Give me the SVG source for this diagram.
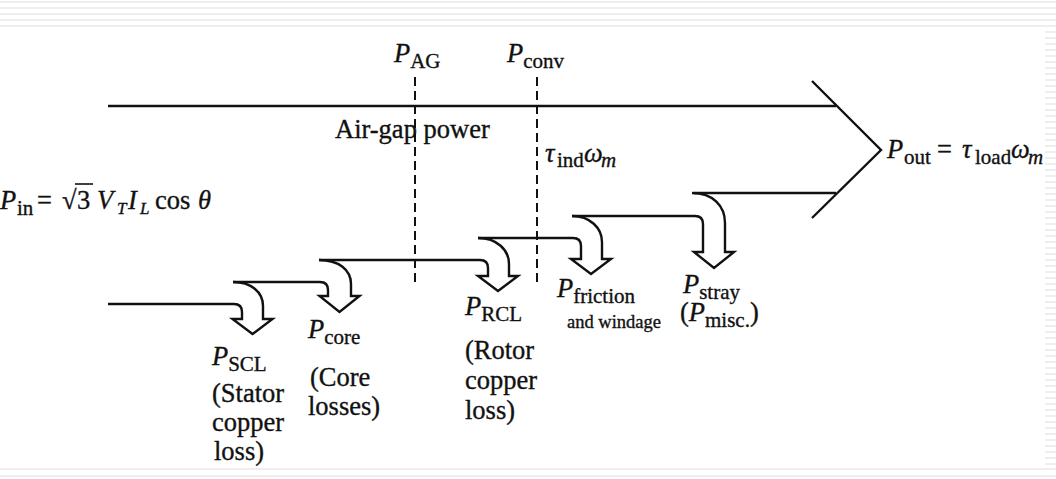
<svg xmlns="http://www.w3.org/2000/svg" width="1056" height="479" viewBox="0 0 1056 479">
<style>
.bg{fill:#ffffff}
.st{fill:#eeeeee}
.ln{fill:none;stroke:#111;stroke-width:2.4;stroke-linejoin:miter;stroke-linecap:butt}
.dash{fill:none;stroke:#111;stroke-width:2;stroke-dasharray:9 5}
.t{font-family:"Liberation Serif","Times New Roman",serif;font-size:26.5px;fill:#111;stroke:#111;stroke-width:0.35}
.i{font-style:italic}
.s{font-size:21px}
.ss{font-size:17px}
.sm{font-size:18.5px}
</style>
<rect class="bg" x="0" y="0" width="1056" height="479"/>
<g id="background">
<rect class="st" x="0" y="1" width="1056" height="2"/>
<rect class="st" x="0" y="7" width="1056" height="2"/>
<rect class="st" x="0" y="13" width="1056" height="2"/>
<rect class="st" x="0" y="19" width="1056" height="2"/>
<rect class="st" x="0" y="25" width="1056" height="2"/>
<rect class="st" x="0" y="468" width="1056" height="2"/>
<rect class="st" x="0" y="475" width="1056" height="2"/>
<path d="M1045 31h11v2h-11zM1045 37h11v2h-11zM1045 43h11v2h-11zM1045 49h11v2h-11zM1045 55h11v2h-11zM1045 61h11v2h-11zM1045 67h11v2h-11zM1045 73h11v2h-11zM1045 79h11v2h-11zM1045 85h11v2h-11zM1045 91h11v2h-11zM1045 97h11v2h-11zM1045 103h11v2h-11zM1045 109h11v2h-11zM1045 115h11v2h-11zM1045 121h11v2h-11zM1045 127h11v2h-11zM1045 133h11v2h-11zM1045 139h11v2h-11zM1045 145h11v2h-11zM1045 151h11v2h-11zM1045 157h11v2h-11zM1045 163h11v2h-11zM1045 169h11v2h-11zM1045 175h11v2h-11zM1045 181h11v2h-11zM1045 187h11v2h-11zM1045 193h11v2h-11zM1045 199h11v2h-11zM1045 205h11v2h-11zM1045 211h11v2h-11zM1045 217h11v2h-11zM1045 223h11v2h-11zM1045 229h11v2h-11zM1045 235h11v2h-11zM1045 241h11v2h-11zM1045 247h11v2h-11zM1045 253h11v2h-11zM1045 259h11v2h-11zM1045 265h11v2h-11zM1045 271h11v2h-11zM1045 277h11v2h-11zM1045 283h11v2h-11zM1045 289h11v2h-11zM1045 295h11v2h-11zM1045 301h11v2h-11zM1045 307h11v2h-11zM1045 313h11v2h-11zM1045 319h11v2h-11zM1045 325h11v2h-11zM1045 331h11v2h-11zM1045 337h11v2h-11zM1045 343h11v2h-11zM1045 349h11v2h-11zM1045 355h11v2h-11zM1045 361h11v2h-11zM1045 367h11v2h-11zM1045 373h11v2h-11zM1045 379h11v2h-11zM1045 385h11v2h-11zM1045 391h11v2h-11zM1045 397h11v2h-11zM1045 403h11v2h-11zM1045 409h11v2h-11zM1045 415h11v2h-11zM1045 421h11v2h-11zM1045 427h11v2h-11zM1045 433h11v2h-11zM1045 439h11v2h-11zM1045 445h11v2h-11zM1045 451h11v2h-11zM1045 457h11v2h-11zM1045 463h11v2h-11z" class="st"/>
</g>
<g id="connectors">
<path id="main-top" class="ln" d="M108 106H836"/>
<path id="main-head" class="ln" d="M812 81L881 150L812 218"/>
<path id="main-bottom" class="ln" d="M694 193H836"/>
<path id="dash-ag" class="dash" d="M415 77V287"/>
<path id="dash-conv" class="dash" d="M537 77V287"/>
</g>
<g id="arrow-scl"><path class="ln" d="M108 304H234Q242 304 242 312V319H232.5L252.5 334L272.5 319H263V306C263 292 251 282 233 282"/></g>
<g id="arrow-core"><path class="ln" d="M233 282H320Q328 282 328 290V296H319.5L339.5 312L359.5 296H351V284C351 270 339 260 319 260"/></g>
<g id="arrow-rcl"><path class="ln" d="M319 260H480Q488 260 488 268V276H478L498 291L518 276H509V264C509 250 497 238 478 238"/></g>
<g id="arrow-friction"><path class="ln" d="M478 238H573Q581 238 581 246V259H571L591 274L611 259H602V242C602 228 590 216 572 216"/></g>
<g id="arrow-stray"><path class="ln" d="M572 216H695Q703 216 703 224V252H694L714 268L734 252H725V223C725 206 713 193 692 193"/></g>
<g id="label-pag"><text class="t" x="394" y="62"><tspan class="i">P</tspan><tspan class="s" dy="6">AG</tspan></text></g>
<g id="label-pconv"><text class="t" x="507" y="62"><tspan class="i">P</tspan><tspan class="s" dy="6">conv</tspan></text></g>
<g id="label-airgap"><text class="t" x="335" y="138">Air-gap power</text></g>
<g id="label-tind"><text class="t" y="162"><tspan class="i" x="545">τ</tspan><tspan class="s" x="557" dy="5">ind</tspan><tspan class="i" x="584" dy="-5">ω</tspan><tspan class="s i" x="601" dy="5">m</tspan></text></g>
<g id="label-pin"><text class="t" y="209"><tspan class="i" x="0">P</tspan><tspan class="s" x="17" dy="6">in</tspan><tspan x="37" dy="-6">=</tspan><tspan x="62">√</tspan><tspan x="77">3</tspan><tspan class="i" x="97">V</tspan><tspan class="ss i" x="117" dy="5">T</tspan><tspan class="i" x="128" dy="-5">I</tspan><tspan class="ss i" x="140" dy="5">L</tspan><tspan x="155" dy="-5">cos</tspan><tspan class="i" x="198">θ</tspan></text><path class="ln" d="M75 184H93" style="stroke-width:1.6"/></g>
<g id="label-pout"><text class="t" y="158"><tspan class="i" x="887">P</tspan><tspan class="s" x="904" dy="6">out</tspan><tspan x="937" dy="-6">=</tspan><tspan class="i" x="962">τ</tspan><tspan class="s" x="975" dy="6">load</tspan><tspan class="i" x="1011" dy="-6">ω</tspan><tspan class="s i" x="1028" dy="6">m</tspan></text></g>
<g id="label-scl"><text class="t" x="212" y="365"><tspan class="i">P</tspan><tspan class="s" dy="6">SCL</tspan></text><text class="t" x="212" y="402">(Stator</text><text class="t" x="212" y="431">copper</text><text class="t" x="214" y="460">loss)</text></g>
<g id="label-core"><text class="t" x="308" y="338"><tspan class="i">P</tspan><tspan class="s" dy="6">core</tspan></text><text class="t" x="310" y="386">(Core</text><text class="t" x="308" y="415">losses)</text></g>
<g id="label-rcl"><text class="t" x="465" y="315"><tspan class="i">P</tspan><tspan class="s" dy="6">RCL</tspan></text><text class="t" x="465" y="359">(Rotor</text><text class="t" x="465" y="389">copper</text><text class="t" x="465" y="419">loss)</text></g>
<g id="label-friction"><text class="t" x="557" y="297"><tspan class="i">P</tspan><tspan class="s" dy="6">friction</tspan></text><text class="t sm" x="567" y="328">and windage</text></g>
<g id="label-stray"><text class="t" x="683" y="293"><tspan class="i">P</tspan><tspan class="s" dy="6">stray</tspan></text><text class="t" x="680" y="321">(<tspan class="i">P</tspan><tspan class="s" dy="6">misc.</tspan><tspan dy="-6">)</tspan></text></g>
</svg>
